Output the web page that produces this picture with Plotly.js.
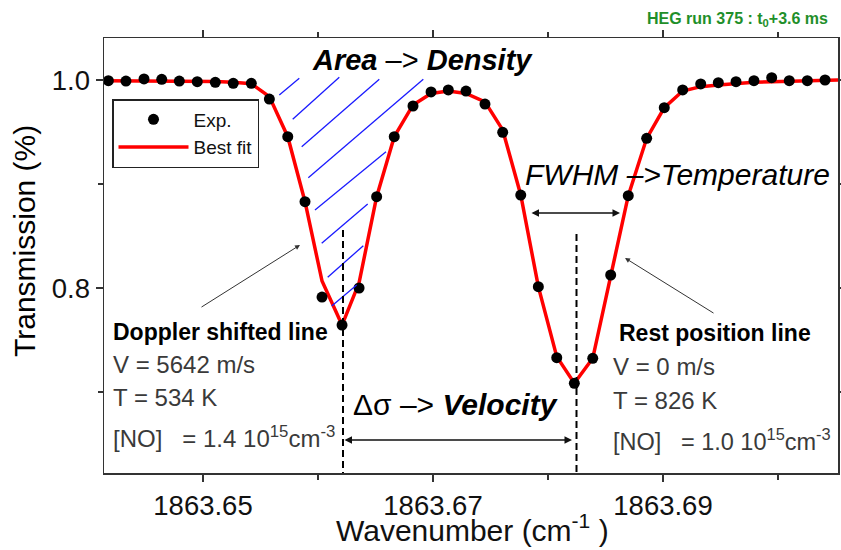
<!DOCTYPE html>
<html>
<head>
<meta charset="utf-8">
<script src="https://cdn.plot.ly/plotly-3.0.1.min.js"></script>
<style>html,body{margin:0;padding:0;background:#fff;}#chart{width:841px;height:550px;}</style>
</head>
<body>
<div id="chart"></div>
<script>
// ---- data ----
const wavenumber = [
  1863.64177, 1863.64330, 1863.64487, 1863.64641, 1863.64794, 1863.64950, 1863.65107,
  1863.65263, 1863.65420, 1863.65577, 1863.65737, 1863.65887, 1863.66035, 1863.66209,
  1863.66357, 1863.66510, 1863.66663, 1863.66826, 1863.66983, 1863.67133, 1863.67287,
  1863.67452, 1863.67606, 1863.67763, 1863.67916, 1863.68076, 1863.68229, 1863.68389,
  1863.68545, 1863.68698, 1863.68858, 1863.69011, 1863.69171, 1863.69328, 1863.69481,
  1863.69635, 1863.69791, 1863.69945, 1863.70098, 1863.70255, 1863.70409
];
const transmissionExp = [
  0.9993, 0.9990, 1.0010, 1.0007, 0.9990, 0.9984, 0.9978,
  0.9968, 0.9968, 0.9817, 0.9455, 0.8830, 0.7913, 0.7644,
  0.8000, 0.8878, 0.9455, 0.9750, 0.9885, 0.9904, 0.9894,
  0.9769, 0.9497, 0.8894, 0.8013, 0.7330, 0.7084, 0.7324,
  0.8125, 0.8888, 0.9439, 0.9734, 0.9904, 0.9962, 0.9974,
  0.9984, 0.9993, 1.0022, 0.9993, 0.9993, 1.0000
];
const fitWavenumber = [1863.64139].concat(wavenumber, [1863.70522]);
const transmissionFit = [
  0.9993,
  0.9993, 0.9993, 0.9993, 0.9993, 0.9992, 0.9990, 0.9985,
  0.9978, 0.9965, 0.9840, 0.9455, 0.8830, 0.8067, 0.7644,
  0.8050, 0.8878, 0.9455, 0.9760, 0.9870, 0.9894, 0.9870,
  0.9790, 0.9520, 0.8894, 0.8013, 0.7340, 0.7084, 0.7324,
  0.8125, 0.8888, 0.9439, 0.9734, 0.9894, 0.9936, 0.9952,
  0.9968, 0.9978, 0.9984, 0.9990, 0.9993, 0.9995,
  1.0000
];
const xTickVals = [1863.65, 1863.67, 1863.69];
const xTickText = ['1863.65', '1863.67', '1863.69'];
const xMinorVals = [1863.66, 1863.68, 1863.70];
const yTickVals = [0.8, 1.0];
const yTickText = ['0.8', '1.0'];
const yMinorVals = [0.7, 0.9];

// ---- layout helpers (pixel -> paper) ----
const PL = 104, PR = 838, PT = 38, PB = 473;
const fx = p => (p - PL) / (PR - PL);
const fy = p => (PB - p) / (PB - PT);
const FONT = 'Liberation Sans, Arial, Helvetica, sans-serif';

function txt(text, xp, yp, size, opts) {
  return Object.assign({
    text: text, xref: 'paper', yref: 'paper', x: fx(xp), y: fy(yp),
    xanchor: 'left', yanchor: 'middle', showarrow: false,
    font: {family: FONT, size: size, color: '#000'}
  }, opts || {});
}
function arrow(hx, hy, tx, ty, opts) {
  return Object.assign({
    text: '', xref: 'paper', yref: 'paper', x: fx(hx), y: fy(hy),
    ax: tx - hx, ay: ty - hy, showarrow: true, arrowhead: 2, arrowsize: 1,
    arrowwidth: 1, arrowcolor: '#333', standoff: 0, startstandoff: 0
  }, opts || {});
}

const hatch = [
  [279.3, 95, 299.3, 78.3],
  [292.7, 119.3, 339.3, 77.3],
  [301.7, 146.7, 379.3, 79.3],
  [308.3, 177.7, 423.3, 79.3],
  [315, 210, 386, 151.7],
  [321.7, 243.3, 367.7, 204],
  [327.7, 277.3, 363.3, 245.7],
  [331.7, 306, 356.7, 285]
];
const shapes = hatch.map(h => ({
  type: 'line', xref: 'paper', yref: 'paper',
  x0: fx(h[0]), y0: fy(h[1]), x1: fx(h[2]), y1: fy(h[3]),
  line: {color: '#1a1aff', width: 1.3}
}));
[[343, 230], [576.5, 234]].forEach(d => shapes.push({
  type: 'line', xref: 'paper', yref: 'paper',
  x0: fx(d[0]), y0: fy(d[1]), x1: fx(d[0]), y1: fy(PB),
  line: {color: '#000', width: 2, dash: '7px,4px'}
}));

const gray = '#3a3a3a';
const g = (size) => ({font: {family: FONT, size: size, color: gray}});
const annotations = [
  txt('<b>HEG run 375 : t<sub>0</sub>+3.6 ms</b>', 830, 20, 16, {xanchor: 'right', font: {family: FONT, size: 16, color: '#1f8f2a'}}),
  txt('<b><i>Area</i></b> \u2013> <b><i>Density</i></b>', 422, 60, 29, {xanchor: 'center'}),
  txt('<i>FWHM \u2013>Temperature</i>', 523, 174, 30),
  txt('\u0394\u03c3 \u2013> <b><i>Velocity</i></b>', 351, 404, 30),
  txt('<b>Doppler shifted line</b>', 111, 332, 23),
  txt('V = 5642 m/s', 111, 364, 24, g(24)),
  txt('T = 534 K', 111, 397, 24, g(24)),
  txt('[NO]\u00a0\u00a0 = 1.4 10<sup>15</sup>cm<sup>-3</sup>', 111, 437, 24, g(24)),
  txt('<b>Rest position line</b>', 617, 333, 23),
  txt('V = 0 m/s', 611, 366, 24, g(24)),
  txt('T = 826 K', 611, 400, 24, g(24)),
  txt('[NO]\u00a0\u00a0 = 1.0 10<sup>15</sup>cm<sup>-3</sup>', 611, 440, 23.5, g(23.5)),
  txt('Transmission (%)', 24, 241, 30, {xanchor: 'center', textangle: -90}),
  txt('Wavenumber (cm<sup>-1</sup> )', 472, 528, 30, {xanchor: 'center', font: {family: FONT, size: 30, color: '#111'}}),
  arrow(300, 245, 200, 308),
  arrow(625, 258, 715, 314),
  arrow(620, 213, 530, 213, {arrowside: 'end+start', arrowwidth: 1.5, arrowcolor: '#111'}),
  arrow(572, 440, 343, 440, {arrowside: 'end+start', arrowwidth: 1.5, arrowcolor: '#111'})
];

const traces = [
  {x: fitWavenumber, y: transmissionFit, mode: 'lines', name: 'Best fit',
   line: {color: '#ff0000', width: 3.5}},
  {x: wavenumber, y: transmissionExp, mode: 'markers', name: 'Exp.',
   marker: {color: '#000', size: 11}}
];

const axisCommon = {
  showline: true, linecolor: '#333', linewidth: 1.5, mirror: 'allticks',
  ticks: 'outside', ticklen: 7, tickwidth: 1.5, tickcolor: '#333',
  showgrid: false, zeroline: false,
  tickfont: {family: FONT, size: 27.5, color: '#111'}
};

const layout = {
  width: 841, height: 550,
  margin: {l: PL, r: 841 - PR, t: PT, b: 550 - PB, pad: 0},
  paper_bgcolor: '#fff', plot_bgcolor: '#fff',
  showlegend: true,
  legend: {x: fx(112), y: fy(99), xanchor: 'left', yanchor: 'top',
           traceorder: 'reversed', bgcolor: '#fff', bordercolor: '#222', borderwidth: 1.5,
           font: {family: FONT, size: 19, color: '#111'}, itemwidth: 70, tracegroupgap: 0},
  xaxis: Object.assign({}, axisCommon, {
    range: [1863.641391, 1863.705217], tickmode: 'array', tickvals: xTickVals, ticktext: xTickText,
    minor: {tickmode: 'array', tickvals: xMinorVals, ticks: 'outside', ticklen: 5, tickwidth: 1.5, tickcolor: '#333'}
  }),
  yaxis: Object.assign({}, axisCommon, {
    range: [0.62212, 1.04038], tickmode: 'array', tickvals: yTickVals, ticktext: yTickText,
    minor: {tickmode: 'array', tickvals: yMinorVals, ticks: 'outside', ticklen: 5, tickwidth: 1.5, tickcolor: '#333'}
  }),
  shapes: shapes,
  annotations: annotations
};

Plotly.newPlot('chart', traces, layout, {displayModeBar: false, staticPlot: true});
</script>
</body>
</html>
